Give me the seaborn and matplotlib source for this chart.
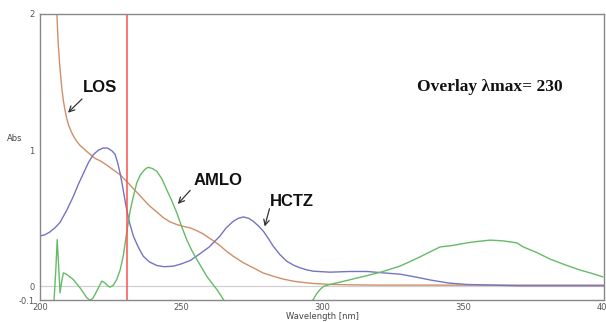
import pandas as pd
import matplotlib.pyplot as plt
import seaborn as sns

# values (wavelength nm, absorbance)
los_wl = [205.3, 206, 206.4, 207, 207.7, 208.3, 208.9, 209.5, 210.2, 211, 211.8, 213, 214.2, 216.6,
          219.5, 221.5, 223.7, 226, 228.4, 231.2, 233, 235.5, 237.5, 239, 241.5, 243.7, 246, 248.5,
          251, 253.2, 255.5, 257.9, 260, 261.5, 263.8, 266, 268.5, 272, 275.6, 279, 282.7, 286,
          289.8, 293, 296.9, 302.8, 310, 320, 340, 360, 380, 400]
los_abs = [2.1, 2.0, 1.80, 1.62, 1.46, 1.36, 1.29, 1.23, 1.18, 1.14, 1.105, 1.065, 1.035, 0.99,
           0.94, 0.92, 0.89, 0.855, 0.82, 0.76, 0.72, 0.665, 0.62, 0.588, 0.545, 0.505, 0.475, 0.454,
           0.44, 0.43, 0.41, 0.385, 0.355, 0.335, 0.30, 0.26, 0.222, 0.175, 0.137, 0.10, 0.075, 0.055,
           0.039, 0.03, 0.022, 0.015, 0.012, 0.01, 0.01, 0.01, 0.01, 0.01]

hctz_wl = [200, 201.8, 203.5, 205.3, 207.1, 209.5, 211.8, 213.6, 215.4, 217.2, 218.9, 220.7, 222.4,
           224, 225.5, 226.6, 227.5, 228.4, 229.4, 230.4, 231.7, 233.1, 234.8, 236.6, 238.8, 241.4,
           244, 247.3, 250, 253.2, 256.7, 260, 263.8, 266, 268.5, 270.3, 272.1, 274, 275.6, 277.4,
           279.2, 281, 282.7, 285, 287.5, 290, 292.2, 294.5, 296.9, 302.8, 310, 316, 321.6, 327.7,
           333, 339, 345, 351, 360, 370, 380, 390, 400]
hctz_abs = [0.37, 0.38, 0.40, 0.43, 0.47, 0.56, 0.66, 0.75, 0.83, 0.91, 0.967, 1.0, 1.016,
            1.015, 0.995, 0.97, 0.91, 0.83, 0.72, 0.60, 0.47, 0.37, 0.29, 0.222, 0.18, 0.154,
            0.145, 0.149, 0.165, 0.19, 0.24, 0.29, 0.37, 0.43, 0.478, 0.50, 0.51, 0.50, 0.478, 0.445,
            0.405, 0.35, 0.295, 0.235, 0.185, 0.155, 0.137, 0.122, 0.112, 0.105, 0.11, 0.11, 0.10, 0.09,
            0.07, 0.045, 0.025, 0.015, 0.01, 0.005, 0.005, 0.005, 0.005]

amlo_wl = [204.6, 205, 205.6, 206.1, 206.6, 207.1, 207.7, 208.3, 209.5, 211.8, 214.2, 216.6,
           217.7, 218.6, 219.5, 220.7, 221.9, 223, 224, 224.8, 226, 227.2, 228.4, 229.5, 230.7,
           231.9, 233.1, 234.3, 235.5, 236.6, 237.5, 238.4, 239.9, 241.4, 243.2, 244.9, 246.7,
           248.5, 250.2, 252, 253.8, 255.6, 257.4, 259.1, 260.9, 262.7, 265, 266.5,
           295.5, 296.9, 298, 299.3, 300.5, 302.8, 306, 310, 316, 321.6, 327.7, 334, 341.8, 346,
           351.4, 355, 359.6, 364, 369, 371.3, 376, 380.9, 386, 391.5, 395, 399.6]
amlo_abs = [-0.12, -0.095, 0.12, 0.344, 0.15, -0.046, 0.04, 0.10, 0.088, 0.051, -0.01, -0.083,
            -0.10, -0.09, -0.059, -0.01, 0.039, 0.027, 0.005, -0.005, 0.01, 0.051, 0.12, 0.222, 0.39,
            0.55, 0.66, 0.76, 0.815, 0.845, 0.865, 0.874, 0.865, 0.845, 0.79, 0.711, 0.63,
            0.54, 0.44, 0.344, 0.265, 0.198, 0.135, 0.075, 0.025, -0.022, -0.095, -0.14,
            -0.12, -0.095, -0.055, -0.022, 0.0, 0.015, 0.03, 0.05, 0.08, 0.11, 0.15, 0.21, 0.29, 0.30,
            0.32, 0.33, 0.34, 0.335, 0.32, 0.29, 0.25, 0.20, 0.16, 0.12, 0.10, 0.07]

lambda_max = 231

labels = ['LOS', 'AMLO', 'HCTZ']
label_xy = [(221.3, 1.46), (263.1, 0.78), (289.4, 0.62)]
arrow_tail = [(215.6, 1.39), (253.9, 0.72), (281.6, 0.59)]
arrow_head = [(209.2, 1.26), (248.2, 0.59), (279.4, 0.42)]

los = pd.DataFrame({'wl': los_wl, 'abs': los_abs})
hctz = pd.DataFrame({'wl': hctz_wl, 'abs': hctz_abs})
amlo = pd.DataFrame({'wl': amlo_wl, 'abs': amlo_abs})
amlo_a = amlo[amlo['wl'] < 280]
amlo_b = amlo[amlo['wl'] > 280]

sns.set_style('white')
fig = plt.figure(figsize=(6.06, 3.22), dpi=100)
ax = fig.add_axes([0.066, 0.068, 0.931, 0.889])

ax.axhline(0, color='#d0d0d0', lw=0.9, zorder=0)
sns.lineplot(data=los, x='wl', y='abs', color='#cf8f68', lw=1.0, ax=ax, sort=False)
sns.lineplot(data=hctz, x='wl', y='abs', color='#7474c4', lw=1.0, ax=ax, sort=False)
sns.lineplot(data=amlo_a, x='wl', y='abs', color='#66bb66', lw=1.0, ax=ax, sort=False)
sns.lineplot(data=amlo_b, x='wl', y='abs', color='#66bb66', lw=1.0, ax=ax, sort=False)
ax.axvline(lambda_max, color='#ff5050', lw=1.1)

ax.set_xlim(200, 400)
ax.set_ylim(-0.1, 2)
ax.set_xticks([200, 250, 300, 350, 400])
ax.set_xticks([225, 275, 325, 375], minor=True)
ax.set_yticks([-0.1, 0, 1, 2])
ax.set_yticklabels(['-0.1', '0', '1', '2'])
ax.set_yticks([0.5, 1.5], minor=True)
ax.tick_params(axis='both', which='both', labelsize=6, colors='#555555', length=3, width=0.6)
ax.tick_params(axis='x', which='both', direction='in', pad=2)
ax.tick_params(axis='y', which='both', direction='out', pad=1)
for s in ax.spines.values():
    s.set_color('#888888')
    s.set_linewidth(1.0)

ax.set_xlabel('Wavelength [nm]', fontsize=6, color='#444444', labelpad=0)
ax.set_ylabel('Abs', fontsize=6, color='#444444', rotation=0, labelpad=6)
ax.yaxis.set_label_coords(-0.045, 0.55)

for lab, xy, tail, head in zip(labels, label_xy, arrow_tail, arrow_head):
    ax.text(xy[0], xy[1], lab, fontsize=12, fontweight='bold', family='Liberation Sans',
            ha='center', va='center', color='#111111')
    ax.annotate('', xy=head, xytext=tail,
                arrowprops=dict(arrowstyle='->', color='#333333', lw=0.9))

ax.text(359.6, 1.46, 'Overlay λmax= 230', fontsize=12.5, fontweight='bold',
        family='Liberation Serif', ha='center', va='center', color='#111111')

fig.savefig('out.png', dpi=100)
